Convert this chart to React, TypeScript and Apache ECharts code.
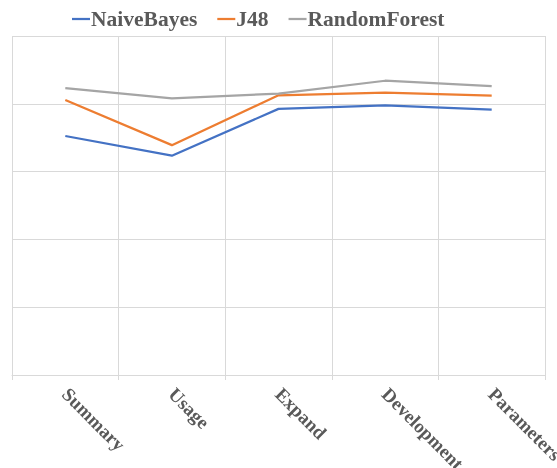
import React, { useEffect, useRef } from "react";
import * as echarts from "echarts";

const categories = ["Summary", "Usage", "Expand", "Development", "Parameters"];
const naiveBayes = [0.705, 0.647, 0.785, 0.795, 0.783];
const j48 = [0.811, 0.678, 0.825, 0.833, 0.824];
const randomForest = [0.846, 0.816, 0.83, 0.868, 0.852];

const seriesNames = ["NaiveBayes", "J48", "RandomForest"];
const colors = ["#4472C4", "#ED7D31", "#A5A5A5"];
const gridColor = "#D9D9D9";
const textColor = "#595959";
const serif = "'Liberation Serif', 'Times New Roman', serif";

export default function App() {
  const ref = useRef<HTMLDivElement>(null);

  useEffect(() => {
    if (!ref.current) return;
    const chart = echarts.init(ref.current, undefined, { renderer: "svg" });
    const values = [naiveBayes, j48, randomForest];
    chart.setOption({
      animation: false,
      color: colors,
      legend: {
        top: 3,
        left: 67,
        icon: "rect",
        itemWidth: 18,
        itemHeight: 2.25,
        itemGap: 20,
        data: seriesNames,
        textStyle: {
          fontFamily: serif,
          fontWeight: "bold",
          fontSize: 21.5,
          color: textColor,
          padding: [0, 0, 0, -4],
        },
      },
      grid: {
        left: 12,
        right: 12,
        top: 36,
        bottom: 93,
        containLabel: false,
        outerBoundsMode: "none",
      },
      xAxis: {
        type: "category",
        data: categories,
        boundaryGap: true,
        axisLine: { show: true, lineStyle: { color: gridColor, width: 1 } },
        axisTick: { show: true, length: 5, lineStyle: { color: gridColor } },
        splitLine: { show: true, lineStyle: { color: gridColor, width: 1 } },
        axisLabel: {
          rotate: -45,
          margin: 16,
          interval: 0,
          fontFamily: serif,
          fontWeight: "bold",
          fontSize: 19,
          color: textColor,
        },
      },
      yAxis: {
        type: "value",
        min: 0,
        max: 1,
        interval: 0.2,
        axisLabel: { show: false },
        axisLine: { show: false },
        axisTick: { show: false },
        splitLine: { show: true, lineStyle: { color: gridColor, width: 1 } },
      },
      series: seriesNames.map((name, i) => ({
        name,
        type: "line",
        data: values[i],
        symbol: "none",
        showSymbol: false,
        lineStyle: { width: 2.25, color: colors[i] },
        itemStyle: { color: colors[i] },
      })),
    });
    return () => chart.dispose();
  }, []);

  return (
    <div
      ref={ref}
      style={{ position: "fixed", left: 0, top: 0, width: 557, height: 468 }}
    />
  );
}
